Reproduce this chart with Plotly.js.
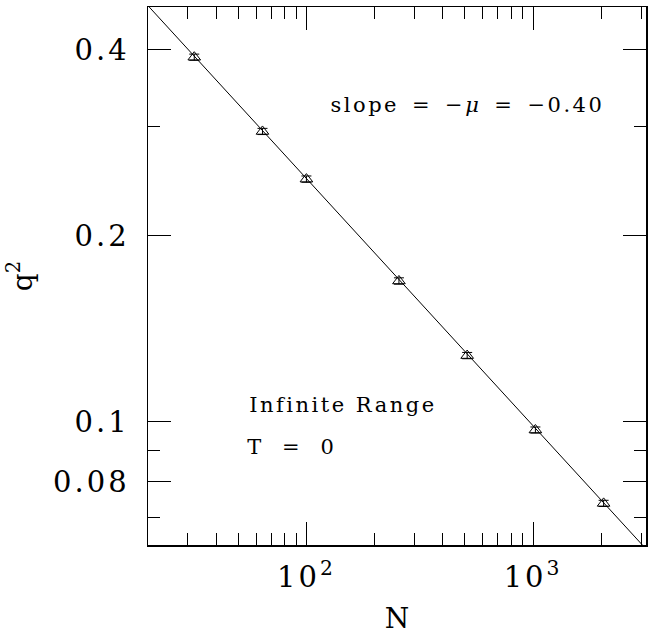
<!DOCTYPE html>
<html>
<head>
<meta charset="utf-8">
<script src="https://cdn.plot.ly/plotly-3.0.1.min.js"></script>
<style>
body{margin:0;padding:0;background:#fff;}
.main-svg .xtick text, .main-svg .ytick text { letter-spacing: 3px; }
.main-svg .annotation-text { letter-spacing: 2.5px; }
</style>
</head>
<body>
<div id="chart" style="width:651px;height:635px;"></div>
<script>
// Data
var sizesN = [32, 64, 100, 256, 512, 1024, 2048];
var q2 = [0.389, 0.295, 0.247, 0.169, 0.128, 0.097, 0.0738];
var q2Err = [0.0045, 0.0034, 0.0029, 0.002, 0.0015, 0.0011, 0.00085];
var fitN = [15, 4000];
var fitQ2 = [0.5288, 0.0566];
var xMajorVals = [100, 1000];
var xMajorText = ['10<sup>2</sup>', '10<sup>3</sup>'];
var xMinorVals = [30, 40, 50, 60, 70, 80, 90, 200, 300, 400, 500, 600, 700, 800, 900, 2000, 3000];
var yMajorVals = [0.4, 0.2, 0.1, 0.08];
var yMajorText = ['0.4', '0.2', '0.1', '0.08'];
var yMinorVals = [0.3, 0.09, 0.07];

var FONT = 'DejaVu Serif, Liberation Serif, serif';

var traces = [
  {
    x: fitN, y: fitQ2, mode: 'lines', type: 'scatter',
    line: {color: '#000', width: 1}, hoverinfo: 'skip', showlegend: false
  },
  {
    x: sizesN, y: q2, mode: 'markers', type: 'scatter',
    marker: {symbol: 'triangle-up-open', size: 11, color: '#000', line: {color: '#000', width: 1}},
    error_y: {type: 'data', array: q2Err, visible: true, color: '#000', thickness: 1, width: 5},
    showlegend: false
  }
];

var axisCommon = {
  showline: true, linecolor: '#000', linewidth: 1.5, mirror: 'ticks',
  ticks: 'inside', ticklen: 23, tickwidth: 1, tickcolor: '#000',
  showgrid: false, zeroline: false,
  tickfont: {family: FONT, size: 29, color: '#000'}
};

var layout = {
  width: 651, height: 635,
  margin: {l: 148, r: 5, t: 7, b: 90},
  paper_bgcolor: '#fff', plot_bgcolor: '#fff',
  font: {family: FONT, color: '#000'},
  xaxis: Object.assign({}, axisCommon, {
    type: 'log', range: [Math.log10(20), Math.log10(3150)],
    tickmode: 'array', tickvals: xMajorVals, ticktext: xMajorText,
    minor: {tickmode: 'array', tickvals: xMinorVals, ticklen: 12, tickwidth: 1, tickcolor: '#000', ticks: 'inside'},
    ticklabelstandoff: 6,
    title: {text: 'N', font: {family: FONT, size: 28, color: '#000'}, standoff: 16}
  }),
  yaxis: Object.assign({}, axisCommon, {
    type: 'log', range: [Math.log10(0.0632), Math.log10(0.469)],
    tickmode: 'array', tickvals: yMajorVals, ticktext: yMajorText,
    minor: {tickmode: 'array', tickvals: yMinorVals, ticklen: 12, tickwidth: 1, tickcolor: '#000', ticks: 'inside'},
    ticklabelstandoff: 11,
    title: {text: 'q<sup>2</sup>', font: {family: FONT, size: 28, color: '#000'}, standoff: 24}
  }),
  annotations: [
    {xref: 'paper', yref: 'paper', x: (467 - 148) / 498, y: (545 - 105) / 538, xanchor: 'center', yanchor: 'middle',
     text: 'slope\u2002=\u2002\u2212<i>\u03bc</i>\u2002=\u2002\u22120.40', showarrow: false,
     font: {family: FONT, size: 21, color: '#000'}},
    {xref: 'paper', yref: 'paper', x: (343 - 148) / 498, y: (545 - 405) / 538, xanchor: 'center', yanchor: 'middle',
     text: 'Infinite\u00a0Range', showarrow: false, font: {family: FONT, size: 21, color: '#000'}},
    {xref: 'paper', yref: 'paper', x: (292 - 148) / 498, y: (545 - 447) / 538, xanchor: 'center', yanchor: 'middle',
     text: 'T\u00a0\u00a0=\u00a0\u00a00', showarrow: false, font: {family: FONT, size: 21, color: '#000'}}
  ]
};

Plotly.newPlot('chart', traces, layout, {displayModeBar: false, staticPlot: true});
</script>
</body>
</html>
